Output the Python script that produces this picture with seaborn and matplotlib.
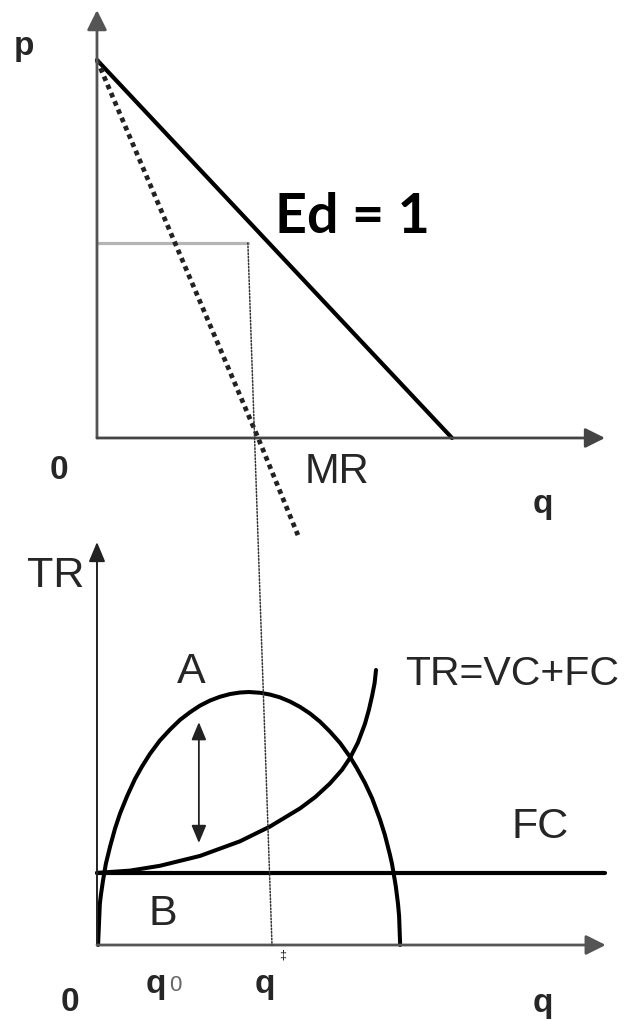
import matplotlib
matplotlib.use("Agg")
import matplotlib.pyplot as plt
from matplotlib.patches import ConnectionPatch
import seaborn as sns

# ---- top panel: demand (Ed = 1 at midpoint) and marginal revenue ----
demand_q = [0, 10]
demand_p = [10, 0]
mr_q = [0, 4.54, 5.66]
mr_p = [10, 0, -2.57]
unit_q_top = 4.25      # quantity where Ed = 1
unit_p = 5.16          # price where Ed = 1

# ---- bottom panel: TR, VC+FC and FC ----
tr_q = [0.03, 0.08, 0.11, 0.17, 0.25, 0.37, 0.51, 0.65, 0.85, 1.07, 1.27, 1.49,
        1.77, 2.06, 2.34, 2.62, 2.90, 3.18, 3.46, 3.75, 4.03, 4.28, 4.59, 4.87,
        5.15, 5.44, 5.72, 6.00, 6.28, 6.56, 6.85, 7.13, 7.32, 7.55, 7.75, 7.97,
        8.11, 8.25, 8.31, 8.39, 8.42, 8.48, 8.51, 8.54]
tr_v = [0.0, 1.62, 1.98, 2.55, 3.21, 3.90, 4.61, 5.20, 5.89, 6.56, 7.06, 7.55,
        8.08, 8.52, 8.90, 9.20, 9.46, 9.66, 9.81, 9.92, 9.98, 10.0, 9.97, 9.90,
        9.79, 9.62, 9.41, 9.15, 8.83, 8.44, 7.98, 7.43, 6.99, 6.40, 5.80, 4.97,
        4.35, 3.58, 3.21, 2.55, 2.29, 1.62, 1.15, 0.0]
tc_q = [0, 0.93, 1.77, 2.90, 4.03, 4.87, 5.72, 6.15, 6.56, 6.90, 7.13, 7.35,
        7.55, 7.66, 7.75, 7.82, 7.86]
tc_v = [2.85, 2.94, 3.13, 3.52, 4.10, 4.68, 5.40, 5.85, 6.38, 6.92, 7.40, 8.00,
        8.75, 9.30, 9.85, 10.35, 10.87]
fc_level = 2.85
fc_end = 14.3
q_star = 4.93
gap_q = 2.87
gap_span = [4.03, 8.81]

sns.set_style("white")
plt.rcParams["font.family"] = ["Liberation Sans", "DejaVu Sans"]

fig = plt.figure(figsize=(6.27, 10.21), dpi=100)
ax_top = fig.add_axes([0, 1 - 560 / 1021, 1, 560 / 1021])
ax_bot = fig.add_axes([0, 0, 1, 490 / 1021])
for ax in (ax_top, ax_bot):
    ax.set_axis_off()
    ax.patch.set_alpha(0)

ax_top.set_xlim(-2.732, 14.930)
ax_top.set_ylim(-3.228, 11.587)
ax_bot.set_xlim(-2.732, 14.930)
ax_bot.set_ylim(-3.004, 16.364)


def axis_arrow(ax, start, end, color, lw, hl=0.6, hw=0.3):
    ax.annotate("", xy=end, xytext=start,
                arrowprops=dict(arrowstyle=f"-|>,head_length={hl},head_width={hw}",
                                mutation_scale=20, color=color, lw=lw,
                                shrinkA=0, shrinkB=0))


# top axes
axis_arrow(ax_top, (0, 0), (0, 11.32), "#555555", 2.0)
axis_arrow(ax_top, (0, 0), (14.31, 0), "#444444", 2.0)

ax_top.plot([0, unit_q_top], [unit_p, unit_p], color="#b5b5b5", lw=2.3)
sns.lineplot(x=demand_q, y=demand_p, ax=ax_top, color="black", lw=3.0,
             estimator=None, sort=False)
sns.lineplot(x=mr_q, y=mr_p, ax=ax_top, color="#222222", lw=3.4,
             linestyle=(0, (1, 0.9)), estimator=None, sort=False)

bold = dict(fontsize=24, fontweight="bold", ha="center", va="center")
ax_top.text(-2.06, 10.37, "p", **bold)
ax_top.text(5.01, 5.42, "Ed = 1", fontsize=40, fontweight="bold", family="Lato",
            ha="left", va="baseline", color="black")
ax_top.text(-1.07, -0.85, "0", **bold)
ax_top.text(5.86, -1.19, "MR", fontsize=30, ha="left", va="baseline")
ax_top.text(12.56, -1.75, "q", **bold)

# bottom axes
axis_arrow(ax_bot, (0, 0), (0, 15.93), "#222222", 1.4, hl=0.6, hw=0.25)
axis_arrow(ax_bot, (0, 0), (14.33, 0), "#555555", 2.0)

ax_bot.plot([0, fc_end], [fc_level, fc_level], color="black", lw=3.0)
sns.lineplot(x=tr_q, y=tr_v, ax=ax_bot, color="black", lw=2.9,
             estimator=None, sort=False, solid_joinstyle="round")
sns.lineplot(x=tc_q, y=tc_v, ax=ax_bot, color="black", lw=2.9,
             estimator=None, sort=False, solid_joinstyle="round")
ax_bot.annotate("", xy=(gap_q, gap_span[1]), xytext=(gap_q, gap_span[0]),
                arrowprops=dict(arrowstyle="<|-|>,head_length=0.6,head_width=0.25",
                                mutation_scale=18, color="#222222", lw=1.3,
                                shrinkA=0, shrinkB=0))

ax_bot.text(-1.97, 14.15, "TR", fontsize=31, ha="left", va="baseline")
ax_bot.text(2.25, 10.36, "A", fontsize=31, ha="left", va="baseline")
ax_bot.text(8.68, 10.28, "TR=VC+FC", fontsize=29.5, ha="left", va="baseline")
ax_bot.text(11.69, 4.23, "FC", fontsize=31, ha="left", va="baseline")
ax_bot.text(1.44, 0.79, "B", fontsize=31, ha="left", va="baseline")
ax_bot.text(1.66, -1.58, "q", **bold)
ax_bot.text(2.20, -1.62, "0", fontsize=16, color="#666666", ha="center", va="center")
ax_bot.text(4.73, -1.58, "q", **bold)
ax_bot.text(5.24, -0.42, "‡", fontsize=9, ha="center", va="center")
ax_bot.text(-0.76, -2.29, "0", **bold)
ax_bot.text(12.56, -2.33, "q", **bold)

# dotted guide from the unit-elastic point down to the TR maximum
con = ConnectionPatch(xyA=(unit_q_top, unit_p), coordsA=ax_top.transData,
                      xyB=(q_star, 0), coordsB=ax_bot.transData,
                      linestyle=(0, (1, 1.2)), lw=1.1, color="#333333")
fig.add_artist(con)

fig.savefig("out.png", dpi=100)
